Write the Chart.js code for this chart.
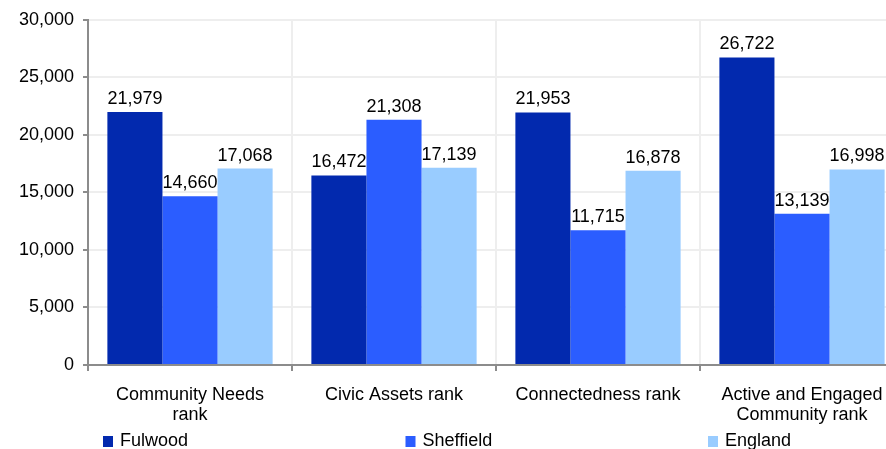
<!DOCTYPE html>
<html>
<head>
<meta charset="utf-8">
<script src="https://cdn.jsdelivr.net/npm/chart.js@4"></script>
<style>
  html, body { margin: 0; padding: 0; background: #fff; overflow: hidden; }
  #wrap { width: 904px; height: 449px; }
</style>
</head>
<body>
<div id="wrap"><canvas id="rankChart" width="904" height="449"></canvas></div>
<script>
// categories and values
const categories = [['Community Needs', 'rank'], 'Civic Assets rank', 'Connectedness rank', ['Active and Engaged', 'Community rank']];
const fulwood = [21979, 16472, 21953, 26722];
const sheffield = [14660, 21308, 11715, 13139];
const england = [17068, 17139, 16878, 16998];
const seriesNames = ['Fulwood', 'Sheffield', 'England'];
const seriesColours = ['#0229AE', '#2B5DFF', '#99CCFF'];

const fontFamily = '"Liberation Sans", Arial, sans-serif';
const fmt = v => v.toLocaleString('en-US');

// value labels on top of every bar
const barLabels = {
  id: 'barLabels',
  afterDatasetsDraw(chart) {
    const ctx = chart.ctx;
    ctx.save();
    ctx.font = '18px ' + fontFamily;
    ctx.fillStyle = '#000';
    ctx.textAlign = 'center';
    ctx.textBaseline = 'bottom';
    chart.data.datasets.forEach((ds, i) => {
      chart.getDatasetMeta(i).data.forEach((bar, j) => {
        ctx.fillText(fmt(ds.data[j]), bar.x, bar.y - 4);
      });
    });
    ctx.restore();
  }
};

// legend spread across the bottom
const bottomLegend = {
  id: 'bottomLegend',
  afterDraw(chart) {
    const ctx = chart.ctx;
    const left = chart.chartArea.left;
    ctx.save();
    ctx.font = '18px ' + fontFamily;
    ctx.textBaseline = 'middle';
    ctx.textAlign = 'left';
    chart.data.datasets.forEach((ds, i) => {
      const x = left + 15 + i * 302.5;
      ctx.fillStyle = ds.backgroundColor;
      ctx.fillRect(x, 436, 10, 11);
      ctx.fillStyle = '#000';
      ctx.fillText(ds.label, x + 17, 441);
    });
    ctx.restore();
  }
};

new Chart(document.getElementById('rankChart'), {
  type: 'bar',
  data: {
    labels: categories,
    datasets: [
      { label: seriesNames[0], data: fulwood, backgroundColor: seriesColours[0] },
      { label: seriesNames[1], data: sheffield, backgroundColor: seriesColours[1] },
      { label: seriesNames[2], data: england, backgroundColor: seriesColours[2] }
    ]
  },
  options: {
    responsive: false,
    animation: false,
    categoryPercentage: 0.81,
    barPercentage: 1,
    layout: { padding: { top: 19, left: 0, right: 0, bottom: 0 } },
    plugins: {
      legend: { display: false },
      tooltip: { enabled: false }
    },
    scales: {
      x: {
        grid: { color: '#eeeeee', lineWidth: 2, tickColor: '#8c8c8c', tickLength: 6, offset: true },
        border: { color: '#8c8c8c', width: 2 },
        ticks: { color: '#000', font: { family: fontFamily, size: 18, lineHeight: 1.1 }, padding: 14, maxRotation: 0 },
        afterFit(scale) { scale.height = 84; }
      },
      y: {
        min: 0,
        max: 30000,
        grid: { color: '#eeeeee', lineWidth: 2, tickColor: '#8c8c8c', tickLength: 5 },
        border: { color: '#8c8c8c', width: 2 },
        ticks: { stepSize: 5000, color: '#000', font: { family: fontFamily, size: 18 }, padding: 9, callback: v => fmt(v) },
        afterFit(scale) { scale.width = 88; }
      }
    }
  },
  plugins: [barLabels, bottomLegend]
});
</script>
</body>
</html>
